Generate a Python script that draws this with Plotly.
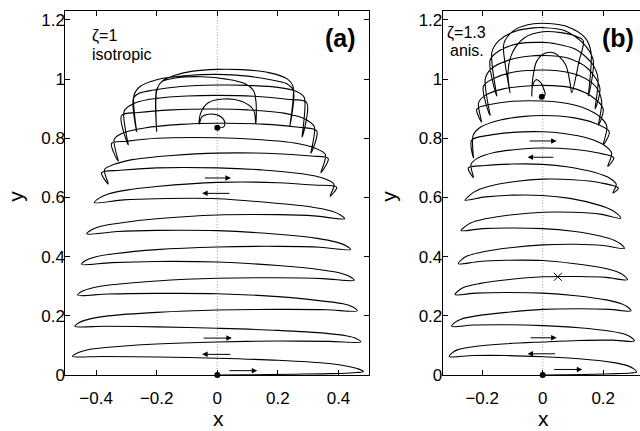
import plotly.graph_objects as go

# ---------------- data ----------------
# trajectory of panel (a), zeta = 1 (isotropic): (x, y) points in time order
traj_a = [
    (0.0, 0.0), (0.1, 0.001), (0.25, 0.003), (0.38, 0.005), (0.45, 0.008), (0.482, 0.012),
    (0.465, 0.021), (0.43, 0.03), (0.37, 0.039), (0.2, 0.05), (0.0, 0.057), (-0.2, 0.061), (-0.38, 0.063), (-0.478, 0.063),
    (-0.462, 0.075), (-0.43, 0.085), (-0.37, 0.093), (-0.2, 0.105), (0.0, 0.112), (0.2, 0.115), (0.37, 0.114), (0.474, 0.112),
    (0.458, 0.124), (0.425, 0.133), (0.36, 0.141), (0.2, 0.151), (0.0, 0.158), (-0.2, 0.163), (-0.37, 0.165), (-0.47, 0.165),
    (-0.455, 0.178), (-0.42, 0.19), (-0.36, 0.2), (-0.2, 0.212), (0.0, 0.22), (0.2, 0.222), (0.36, 0.221), (0.462, 0.217),
    (0.447, 0.23), (0.415, 0.241), (0.35, 0.25), (0.2, 0.265), (0.0, 0.275), (-0.2, 0.276), (-0.36, 0.274), (-0.461, 0.27),
    (-0.446, 0.283), (-0.41, 0.295), (-0.35, 0.305), (-0.2, 0.318), (0.0, 0.327), (0.2, 0.329), (0.35, 0.326), (0.452, 0.32),
    (0.437, 0.333), (0.405, 0.345), (0.34, 0.356), (0.2, 0.37), (0.0, 0.382), (-0.2, 0.384), (-0.35, 0.38), (-0.448, 0.374),
    (-0.433, 0.388), (-0.4, 0.4), (-0.34, 0.41), (-0.2, 0.424), (0.0, 0.433), (0.2, 0.435), (0.34, 0.432), (0.44, 0.424),
    (0.425, 0.437), (0.39, 0.45), (0.33, 0.462), (0.2, 0.476), (0.0, 0.488), (-0.2, 0.489), (-0.33, 0.485), (-0.431, 0.477),
    (-0.416, 0.49), (-0.385, 0.503), (-0.32, 0.514), (-0.2, 0.528), (0.0, 0.541), (0.2, 0.542), (0.32, 0.538), (0.42, 0.528),
    (0.405, 0.542), (0.37, 0.556), (0.31, 0.568), (0.2, 0.58), (0.0, 0.596), (-0.2, 0.596), (-0.31, 0.592), (-0.406, 0.583),
    (-0.39, 0.598), (-0.36, 0.612), (-0.3, 0.625), (-0.2, 0.637), (0.0, 0.651), (0.2, 0.65), (0.32, 0.642), (0.394, 0.635), (0.372, 0.604),
    (0.385, 0.645), (0.35, 0.665), (0.28, 0.68), (0.15, 0.693), (0.0, 0.70), (-0.2, 0.70), (-0.32, 0.692), (-0.382, 0.684), (-0.36, 0.646),
    (-0.372, 0.695), (-0.34, 0.712), (-0.28, 0.728), (-0.15, 0.742), (0.0, 0.75), (0.2, 0.748), (0.31, 0.74), (0.366, 0.732), (0.342, 0.684),
    (0.357, 0.745), (0.32, 0.768), (0.25, 0.785), (0.12, 0.797), (0.0, 0.802), (-0.2, 0.8), (-0.3, 0.79), (-0.349, 0.783), (-0.327, 0.723),
    (-0.34, 0.797), (-0.31, 0.818), (-0.24, 0.835), (-0.12, 0.847), (0.0, 0.851), (0.15, 0.848), (0.26, 0.838), (0.328, 0.825), (0.309, 0.75),
    (0.32, 0.84), (0.29, 0.865), (0.22, 0.885), (0.1, 0.896), (0.0, 0.899), (-0.15, 0.896), (-0.26, 0.887), (-0.316, 0.877), (-0.294, 0.778),
    (-0.307, 0.893), (-0.27, 0.92), (-0.2, 0.935), (-0.1, 0.943), (0.0, 0.945), (0.12, 0.942), (0.23, 0.932), (0.295, 0.921), (0.28, 0.805),
    (0.287, 0.938), (0.262, 0.958), (0.2, 0.972), (0.1, 0.979), (0.0, 0.98), (-0.12, 0.975), (-0.21, 0.963), (-0.258, 0.952), (-0.277, 0.935), (-0.266, 0.822),
    (-0.275, 0.945), (-0.255, 0.975), (-0.2, 0.998), (-0.1, 1.012), (0.0, 1.016), (0.1, 1.01), (0.18, 0.997), (0.228, 0.985), (0.251, 0.962), (0.24, 0.844),
    (0.25, 0.975), (0.232, 1.0), (0.17, 1.022), (0.08, 1.032), (0.0, 1.033), (-0.08, 1.027), (-0.14, 1.013), (-0.18, 0.995), (-0.2, 0.965), (-0.2, 0.822),
    (-0.2, 0.96), (-0.185, 0.99), (-0.13, 1.005), (-0.05, 1.008), (0.03, 1.0), (0.09, 0.985), (0.12, 0.96), (0.128, 0.92), (0.127, 0.849),
    (0.12, 0.895), (0.08, 0.925), (0.02, 0.933), (-0.03, 0.92), (-0.055, 0.885), (-0.06, 0.848),
    (-0.05, 0.873), (-0.02, 0.882), (0.012, 0.873), (0.025, 0.852), (0.02, 0.838), (0.0, 0.836),
]

# trajectory of panel (b), zeta = 1.3 (anisotropic)
traj_b = [
    (0.0, 0.0), (0.08, 0.001), (0.17, 0.003), (0.25, 0.005), (0.29, 0.007), (0.31, 0.01),
    (0.3, 0.022), (0.28, 0.032), (0.23, 0.043), (0.12, 0.055), (0.0, 0.062), (-0.12, 0.066), (-0.23, 0.066), (-0.309, 0.063),
    (-0.298, 0.076), (-0.28, 0.086), (-0.23, 0.096), (-0.12, 0.106), (0.0, 0.112), (0.12, 0.117), (0.23, 0.118), (0.303, 0.115),
    (0.292, 0.128), (0.272, 0.138), (0.22, 0.149), (0.12, 0.16), (0.0, 0.167), (-0.12, 0.17), (-0.23, 0.169), (-0.301, 0.165),
    (-0.29, 0.178), (-0.27, 0.189), (-0.22, 0.2), (-0.12, 0.212), (0.0, 0.222), (0.12, 0.224), (0.22, 0.222), (0.292, 0.217),
    (0.281, 0.23), (0.26, 0.241), (0.21, 0.254), (0.11, 0.268), (0.0, 0.277), (-0.12, 0.279), (-0.22, 0.277), (-0.29, 0.272),
    (-0.279, 0.285), (-0.26, 0.297), (-0.21, 0.309), (-0.11, 0.323), (0.0, 0.332), (0.12, 0.333), (0.21, 0.33), (0.28, 0.322),
    (0.269, 0.336), (0.248, 0.348), (0.2, 0.362), (0.1, 0.377), (0.0, 0.387), (-0.12, 0.388), (-0.21, 0.384), (-0.279, 0.376),
    (-0.268, 0.39), (-0.25, 0.402), (-0.2, 0.416), (-0.1, 0.431), (0.0, 0.44), (0.11, 0.442), (0.2, 0.438), (0.27, 0.428),
    (0.259, 0.442), (0.238, 0.455), (0.19, 0.47), (0.1, 0.486), (0.0, 0.495), (-0.11, 0.497), (-0.2, 0.495), (-0.27, 0.488),
    (-0.259, 0.5), (-0.24, 0.513), (-0.19, 0.528), (-0.1, 0.542), (0.0, 0.55), (0.1, 0.55), (0.19, 0.544), (0.258, 0.53),
    (0.247, 0.545), (0.226, 0.559), (0.18, 0.576), (0.09, 0.597), (0.0, 0.607), (-0.1, 0.608), (-0.19, 0.602), (-0.257, 0.591),
    (-0.246, 0.603), (-0.226, 0.619), (-0.18, 0.637), (-0.09, 0.654), (0.0, 0.662), (0.1, 0.66), (0.19, 0.65), (0.25, 0.632), (0.232, 0.615),
    (0.243, 0.645), (0.222, 0.665), (0.17, 0.685), (0.08, 0.704), (0.0, 0.712), (-0.1, 0.713), (-0.19, 0.708), (-0.246, 0.70), (-0.229, 0.668),
    (-0.237, 0.712), (-0.215, 0.733), (-0.16, 0.752), (-0.07, 0.764), (0.0, 0.767), (0.1, 0.763), (0.18, 0.751), (0.235, 0.734), (0.215, 0.706),
    (0.228, 0.75), (0.206, 0.775), (0.15, 0.8), (0.07, 0.816), (0.0, 0.822), (-0.1, 0.82), (-0.18, 0.81), (-0.235, 0.794), (-0.229, 0.734),
    (-0.23, 0.81), (-0.205, 0.838), (-0.14, 0.862), (-0.06, 0.874), (0.0, 0.877), (0.1, 0.87), (0.17, 0.852), (0.22, 0.822), (0.2, 0.778),
    (0.212, 0.84), (0.19, 0.872), (0.13, 0.905), (0.06, 0.921), (0.0, 0.926), (-0.1, 0.925), (-0.17, 0.915), (-0.218, 0.899), (-0.202, 0.855),
    (-0.212, 0.92), (-0.19, 0.945), (-0.13, 0.967), (-0.05, 0.977), (0.0, 0.979), (0.09, 0.972), (0.16, 0.943), (0.2, 0.899), (0.184, 0.844),
    (0.195, 0.925), (0.175, 0.975), (0.12, 1.012), (0.05, 1.028), (0.0, 1.031), (-0.09, 1.025), (-0.16, 1.003), (-0.196, 0.976), (-0.174, 0.877),
    (-0.19, 1.0), (-0.17, 1.035), (-0.11, 1.065), (-0.04, 1.078), (0.0, 1.08), (0.08, 1.072), (0.15, 1.035), (0.189, 0.97), (0.173, 0.899),
    (0.183, 1.0), (0.165, 1.05), (0.11, 1.1), (0.04, 1.12), (0.0, 1.124), (-0.08, 1.12), (-0.145, 1.095), (-0.174, 1.064), (-0.152, 0.943),
    (-0.168, 1.09), (-0.145, 1.13), (-0.09, 1.162), (-0.03, 1.173), (0.0, 1.174), (0.07, 1.165), (0.135, 1.12), (0.167, 1.064), (0.151, 0.943),
    (0.16, 1.09), (0.14, 1.14), (0.08, 1.178), (0.02, 1.188), (-0.03, 1.187), (-0.09, 1.168), (-0.125, 1.13), (-0.13, 1.108), (-0.108, 0.954),
    (-0.115, 1.02), (-0.1, 1.09), (-0.06, 1.14), (0.0, 1.16), (0.06, 1.157), (0.11, 1.145), (0.134, 1.13), (0.12, 1.06), (0.096, 0.954),
    (0.09, 0.99), (0.075, 1.05), (0.04, 1.087), (0.01, 1.088), (-0.02, 1.06), (-0.033, 1.0), (-0.036, 0.943),
    (-0.034, 0.975), (-0.022, 0.998), (-0.008, 0.99), (0.004, 0.965), (0.008, 0.946), (-0.003, 0.94),
]

# start / end dots
dots_a_x = [0.0, 0.0]
dots_a_y = [0.0, 0.836]
dots_b_x = [0.0, -0.003]
dots_b_y = [0.0, 0.94]
cross_b = (0.05, 0.332)

# direction arrows: (x_tail, y_tail, x_head, y_head)
arrows_a = [(-0.046, 0.666, 0.045, 0.666), (0.045, 0.614, -0.05, 0.614),
            (-0.05, 0.125, 0.048, 0.125), (0.048, 0.07, -0.05, 0.07),
            (0.035, 0.015, 0.132, 0.015)]
arrows_b = [(-0.048, 0.791, 0.046, 0.791), (0.04, 0.736, -0.05, 0.736),
            (-0.045, 0.126, 0.046, 0.126), (0.046, 0.072, -0.05, 0.072),
            (0.033, 0.019, 0.131, 0.019)]

x_ticks_a = [-0.4, -0.2, 0, 0.2, 0.4]
x_ticks_b = [-0.2, 0, 0.2]
y_ticks = [0, 0.2, 0.4, 0.6, 0.8, 1.0, 1.2]
labels_a = ["ζ=1", "isotropic", "(a)"]
labels_b = ["ζ=1.3", "anis.", "(b)"]

# ---------------- figure ----------------
W, H = 640, 431
FONT = "Liberation Sans, Arial, Helvetica, sans-serif"
fig = go.Figure()

for pts, xa, ya in [(traj_a, "x", "y"), (traj_b, "x2", "y2")]:
    fig.add_trace(go.Scatter(
        x=[p[0] for p in pts], y=[p[1] for p in pts], mode="lines",
        line=dict(color="black", width=1.1, shape="spline", smoothing=0.9),
        xaxis=xa, yaxis=ya, showlegend=False, hoverinfo="skip"))

fig.add_trace(go.Scatter(x=dots_a_x, y=dots_a_y, mode="markers", marker=dict(color="black", size=6),
                         xaxis="x", yaxis="y", showlegend=False, cliponaxis=False, hoverinfo="skip"))
fig.add_trace(go.Scatter(x=dots_b_x, y=dots_b_y, mode="markers", marker=dict(color="black", size=6),
                         xaxis="x2", yaxis="y2", showlegend=False, cliponaxis=False, hoverinfo="skip"))
fig.add_trace(go.Scatter(x=[cross_b[0]], y=[cross_b[1]], mode="markers",
                         marker=dict(symbol="x-thin", size=8, line=dict(color="black", width=1)),
                         xaxis="x2", yaxis="y2", showlegend=False, hoverinfo="skip"))

YTOP = 1.231
for xr, yr in [("x", "y"), ("x2", "y2")]:
    fig.add_shape(type="line", xref=xr, yref=yr, x0=0, x1=0, y0=0, y1=YTOP,
                  line=dict(color="#9a9a9a", width=1, dash="1px,2px"), layer="below")

for arrs, xr, yr in [(arrows_a, "x", "y"), (arrows_b, "x2", "y2")]:
    for (x0, y0, x1, y1) in arrs:
        fig.add_annotation(x=x1, y=y1, ax=x0, ay=y0, xref=xr, yref=yr, axref=xr, ayref=yr,
                           showarrow=True, arrowhead=2, arrowsize=1.1, arrowwidth=1,
                           arrowcolor="black", text="")

txt = dict(size=16, family=FONT, color="black")
big = dict(size=25, family=FONT, color="black")
fig.add_annotation(x=-0.42, y=1.145, xref="x", yref="y", text=labels_a[0], showarrow=False,
                   xanchor="left", yanchor="middle", font=txt)
fig.add_annotation(x=-0.42, y=1.083, xref="x", yref="y", text=labels_a[1], showarrow=False,
                   xanchor="left", yanchor="middle", font=txt)
fig.add_annotation(x=0.465, y=1.138, xref="x", yref="y", text="<b>" + labels_a[2] + "</b>", showarrow=False,
                   xanchor="right", yanchor="middle", font=big)
fig.add_annotation(x=-0.322, y=1.157, xref="x2", yref="y2", text=labels_b[0], showarrow=False,
                   xanchor="left", yanchor="middle", font=txt)
fig.add_annotation(x=-0.312, y=1.097, xref="x2", yref="y2", text=labels_b[1], showarrow=False,
                   xanchor="left", yanchor="middle", font=txt)
fig.add_annotation(x=0.31, y=1.138, xref="x2", yref="y2", text="<b>" + labels_b[2] + "</b>", showarrow=False,
                   xanchor="right", yanchor="middle", font=big)

# axis titles placed as paper annotations
ttl = dict(size=21, family=FONT, color="black")
for xp in [218 / W, 543.5 / W]:
    fig.add_annotation(x=xp, y=0, xref="paper", yref="paper", text="x", showarrow=False,
                       xanchor="center", yanchor="bottom", yshift=-11, font=ttl)
for xp in [16 / W, 389 / W]:
    fig.add_annotation(x=xp, y=(H - 201.5) / H, xref="paper", yref="paper", text="y", showarrow=False,
                       xanchor="center", yanchor="middle", textangle=-90, font=ttl)

tickfont = dict(size=17, family=FONT, color="black")
ydom = [47 / H, (H - 11) / H]
common = dict(showgrid=False, zeroline=False, showline=True, linecolor="black", linewidth=1,
              ticks="inside", ticklen=5, tickcolor="black", tickfont=tickfont)

fig.update_layout(
    width=W, height=H, margin=dict(l=0, r=0, t=0, b=0),
    paper_bgcolor="white", plot_bgcolor="white",
    xaxis=dict(domain=[65.3 / W, 369 / W], range=[-0.5017, 0.5007], tickvals=x_ticks_a,
               mirror="ticks", anchor="y", ticklabelstandoff=8, **common),
    yaxis=dict(domain=ydom, range=[0, YTOP], tickvals=y_ticks, mirror="ticks", anchor="x",
               ticklabelstandoff=-4, **common),
    xaxis2=dict(domain=[442.7 / W, 1.0], range=[-0.3306, 0.3217], tickvals=x_ticks_b,
                mirror="ticks", anchor="y2", ticklabelstandoff=8, **common),
    yaxis2=dict(domain=ydom, range=[0, YTOP], tickvals=y_ticks, mirror=False, anchor="x2",
                ticklabelstandoff=-4, **common),
    yaxis3=dict(overlaying="y2", anchor="x2", side="right", range=[0, YTOP], tickvals=y_ticks,
                showgrid=False, zeroline=False, showline=False, ticks="inside", ticklen=5,
                tickcolor="black", showticklabels=False),
)

fig.write_html("out.html")
